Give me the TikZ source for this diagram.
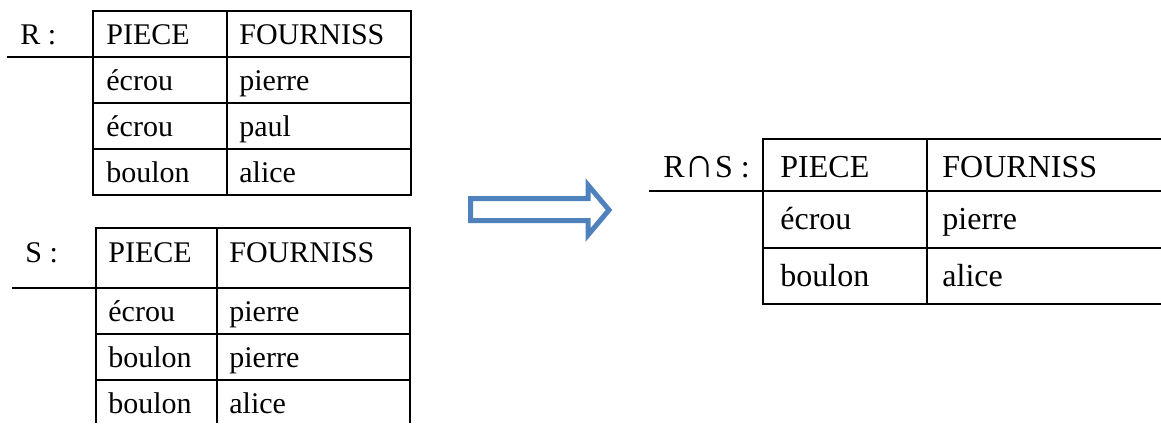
\documentclass[tikz,border=0pt]{standalone}
\usepackage{fontspec}
\setmainfont{Liberation Serif}
\definecolor{arrowblue}{HTML}{4F81BD}

\tikzset{
  cell/.style={anchor=base west, inner sep=0pt, font=\fontsize{15}{18}\selectfont},
  bigcell/.style={cell, font=\fontsize{16}{19}\selectfont},
  rule/.style={line width=1pt},
  hollowarrow/.style={draw=arrowblue, line width=2.5pt, fill=white, line join=miter}
}

\begin{document}
\begin{tikzpicture}[x=0.5pt, y=-0.5pt]
      \useasboundingbox (0,0) rectangle (1161,423);

      % Table R
      \draw[rule] (93,10.7) rectangle (411,195);
      \draw[rule] (7,56.7) -- (411,56.7);
      \foreach \y in {102.7,149} \draw[rule] (93,\y) -- (411,\y);
      \draw[rule] (227,10.7) -- (227,195);

      \node[cell] (rlabel) at (20,44) {R :};
      \node[cell] (rhpiece) at (106,44) {PIECE};
      \node[cell] (rhfourn) at (239,44) {FOURNISS};
      \foreach \piece/\fourn [count=\i] in {écrou/pierre, écrou/paul, boulon/alice} {
        \node[cell] (rp\i) at (106,44+46*\i) {\piece};
        \node[cell] (rf\i) at (239,44+46*\i) {\fourn};
      }

      % Table S
      \draw[rule] (96,423) -- (96,228) -- (410,228) -- (410,423);
      \draw[rule] (12,287.5) -- (410,287.5);
      \foreach \y in {333.5,379.5} \draw[rule] (96,\y) -- (410,\y);
      \draw[rule] (216.5,228) -- (216.5,423);

      \node[cell] (slabel) at (25,262) {S :};
      \node[cell] (shpiece) at (108,262) {PIECE};
      \node[cell] (shfourn) at (229,262) {FOURNISS};
      \foreach \piece/\fourn [count=\i] in {écrou/pierre, boulon/pierre, boulon/alice} {
        \node[cell] (sp\i) at (108,275+46*\i) {\piece};
        \node[cell] (sf\i) at (229,275+46*\i) {\fourn};
      }

      % Arrow
      \draw[hollowarrow] (470.5,198.5) -- (588,198.5) -- (588,185) -- (609,210)
        -- (588,235) -- (588,220.5) -- (470.5,220.5) -- cycle;

      % Table R inter S
      \draw[rule] (1161,139) -- (763,139) -- (763,304) -- (1161,304);
      \draw[rule] (649,191) -- (1161,191);
      \draw[rule] (763,248) -- (1161,248);
      \draw[rule] (927,139) -- (927,304);

      \node[bigcell] (ilabel) at (663,177) {R{\fontsize{21}{21}\selectfont ∩}S :};
      \node[bigcell] (ihpiece) at (780,177) {PIECE};
      \node[bigcell] (ihfourn) at (942,177) {FOURNISS};
      \node[bigcell] (ip1) at (780,229) {écrou};
      \node[bigcell] (if1) at (942,229) {pierre};
      \node[bigcell] (ip2) at (780,286) {boulon};
      \node[bigcell] (if2) at (942,286) {alice};
    \end{tikzpicture}
\end{document}
